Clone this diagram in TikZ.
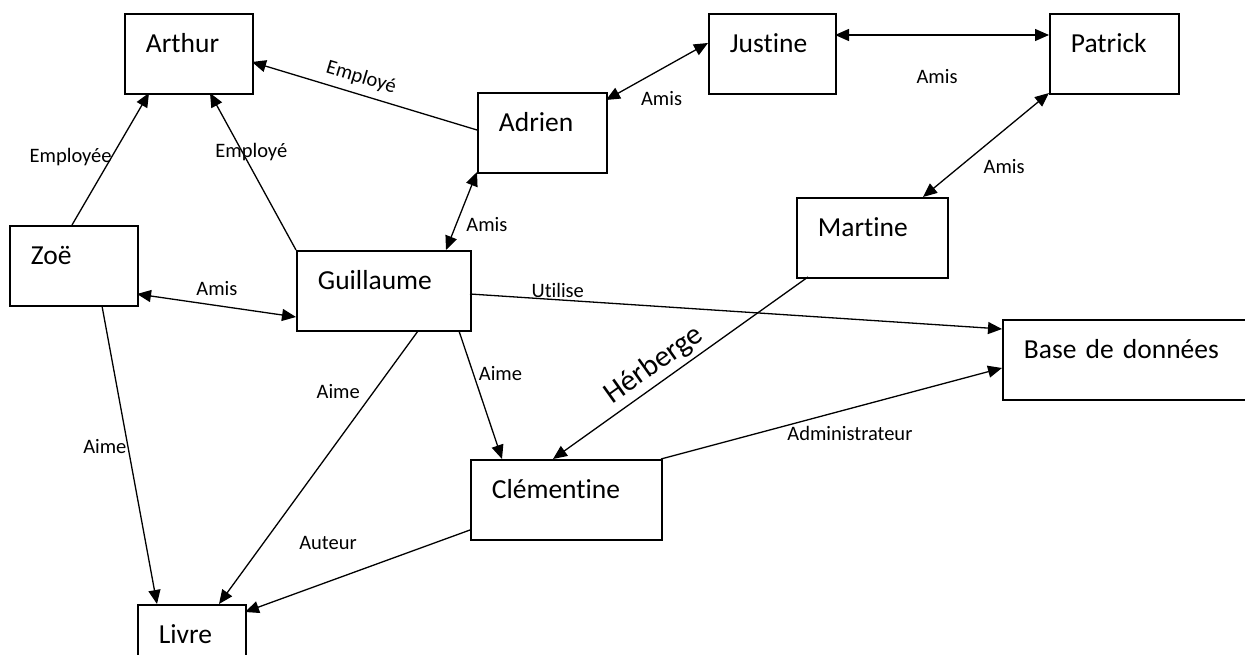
\documentclass[tikz,border=0pt]{standalone}
\usepackage{fontspec}
\setmainfont{Carlito}[Ligatures=NoCommon]
\usetikzlibrary{arrows.meta,calc}
\tikzset{
  ent/.style={draw, line width=1.8pt, anchor=north west, inner xsep=21pt, inner ysep=0pt,
    text height=39pt, text depth=41pt, align=left, font=\fontsize{27.5}{30}\selectfont},
  lab/.style={font=\fontsize{20.5}{22}\selectfont, inner sep=1pt},
  arr/.style={line width=1.3pt, -{Triangle[length=14pt,width=12pt]}},
  biarr/.style={line width=1.3pt, {Triangle[length=14pt,width=12pt]}-{Triangle[length=14pt,width=12pt]}}
}
\begin{document}
\begin{tikzpicture}[x=1pt,y=-1pt]
\useasboundingbox (0,0) rectangle (1245,655);
\clip (0,0) rectangle (1245,655);
% entities
\node[ent, text width=86pt]  (arthur)  at (124,13)  {Arthur};
\node[ent, text width=85pt]  (justine) at (708,13)  {Justine};
\node[ent, text width=87pt]  (patrick) at (1049,13) {Patrick};
\node[ent, text width=87pt]  (adrien)  at (477,92)  {Adrien};
\node[ent, text width=109pt] (martine) at (796,197) {Martine};
\node[ent, text width=86pt]  (zoe)     at (9,225)   {Zoë};
\node[ent, text width=132pt] (guil)    at (296,250) {Guillaume};
\node[ent, text width=149pt] (clem)    at (470,459) {Clémentine};
\node[ent, text width=201pt] (base)    at (1002,319) {Base de données};
\node[ent, text width=66pt]  (livre)   at (137,604) {Livre};
% connectors
\draw[arr] ($(zoe.north west)+(63,0)$) -- node[lab, pos=0.515, xshift=-41pt] {Employée} ($(arthur.north west)+(25,80)$);
\draw[arr] (guil.north west) -- node[lab, pos=0.624, xshift=9pt] {Employé} ($(arthur.north west)+(86,80)$);
\draw[arr] ($(adrien.north west)+(0,38)$) -- node[lab, pos=0.536, sloped, above=6pt] {Employé} ($(arthur.north west)+(128,49)$);
\draw[biarr] ($(adrien.north west)+(129,8)$) -- node[lab, pos=0.545, yshift=-30pt] {Amis} ($(justine.north west)+(0,30)$);
\draw[biarr] ($(justine.north west)+(127,22)$) -- node[lab, pos=0.477, yshift=-42pt] {Amis} ($(patrick.north west)+(0,22)$);
\draw[biarr] ($(patrick.north west)+(0,80)$) -- node[lab, pos=0.705, xshift=44pt] {Amis} ($(martine.north west)+(127,0)$);
\draw[biarr] ($(adrien.north west)+(0,80)$) -- node[lab, pos=0.679, xshift=31pt] {Amis} ($(guil.north west)+(150,0)$);
\draw[biarr] ($(zoe.north west)+(128,69)$) -- node[lab, pos=0.503, yshift=17pt] {Amis} ($(guil.north west)+(0,67)$);
\draw[arr] ($(guil.north west)+(174,44)$) -- node[lab, pos=0.165, yshift=9pt] {Utilise} ($(base.north west)+(0,10)$);
\draw[arr] ($(guil.north west)+(122,81)$) -- node[lab, pos=0.22, xshift=-36pt] {Aime} ($(livre.north west)+(82,0)$);
\draw[arr] ($(guil.north west)+(163,81)$) -- node[lab, pos=0.336, xshift=27pt] {Aime} ($(clem.north west)+(32,0)$);
\draw[arr] ($(zoe.north west)+(93,81)$) -- node[lab, pos=0.47, xshift=-23pt] {Aime} ($(livre.north west)+(20,0)$);
\draw[arr] ($(clem.north west)+(0,71)$) -- node[lab, pos=0.631, yshift=39pt] {Auteur} ($(livre.north west)+(108,8)$);
\draw[arr] ($(martine.north west)+(12,80)$) -- node[pos=0.563, sloped, above=3pt, inner sep=1pt, font=\fontsize{30}{32}\selectfont] {Hérberge} ($(clem.north west)+(83,0)$);
\draw[arr] ($(clem.north west)+(191,0)$) -- node[lab, pos=0.554, yshift=-25pt] {Administrateur} ($(base.north west)+(0,49)$);
\end{tikzpicture}
\end{document}
